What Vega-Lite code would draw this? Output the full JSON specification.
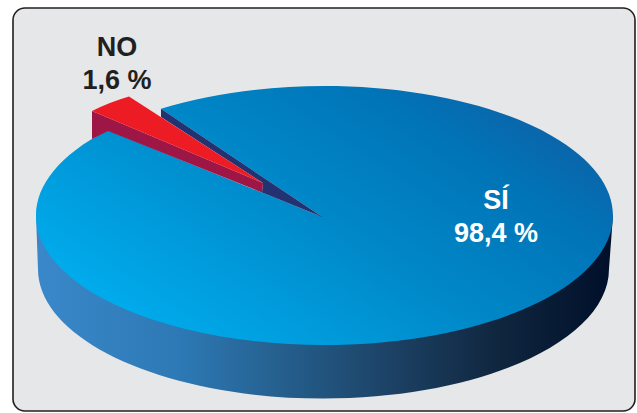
{
  "$schema": "https://vega.github.io/schema/vega-lite/v6.json",
  "width": 622,
  "height": 403,
  "padding": {"left": 13, "top": 8, "right": 2, "bottom": 2},
  "autosize": {"type": "none"},
  "background": "#ffffff",
  "view": {"fill": "#e6e7e8", "stroke": "#231f20", "strokeWidth": 1.6, "cornerRadius": 12},
  "data": {"values": [
    {"part": "SÍ", "share": 98.4, "label": "98,4 %", "u": 77.65, "v": 50.12},
    {"part": "NO", "share": 1.6, "label": "1,6 %", "u": 16.72, "v": 88.09}
  ]},
  "encoding": {
    "x": {"field": "u", "type": "quantitative", "axis": null, "scale": {"domain": [0, 100], "nice": false, "zero": false}},
    "y": {"field": "v", "type": "quantitative", "axis": null, "scale": {"domain": [0, 100], "nice": false, "zero": false}}
  },
  "layer": [
    {
      "transform": [{"filter": "datum.part === 'SÍ'"}],
      "mark": {"type": "point", "filled": true, "opacity": 1, "strokeWidth": 0, "size": 4,
        "shape": "M-460 6.5L-458 60A285.5 129.5 0 0 0 113 60L117 6.5Z",
        "fill": {"gradient": "linear", "x1": 0, "y1": 0.5, "x2": 1, "y2": 0.5, "stops": [
          {"offset": 0, "color": "#3a88ca"},
          {"offset": 0.25, "color": "#2d79b5"},
          {"offset": 0.42, "color": "#25608f"},
          {"offset": 0.6, "color": "#1d4468"},
          {"offset": 0.8, "color": "#10263f"},
          {"offset": 1, "color": "#000f2a"}
        ]}}
    },
    {
      "transform": [{"filter": "datum.part === 'SÍ'"}],
      "mark": {"type": "point", "filled": true, "opacity": 1, "strokeWidth": 0, "size": 4,
        "shape": "M-335 -100.2L-173.5 8L-388.5 -78.84A288.5 129.5 0 1 0 -335 -100.2Z",
        "fill": {"gradient": "linear", "x1": 0.05, "y1": 0.8, "x2": 0.95, "y2": 0.2, "stops": [
          {"offset": 0, "color": "#00aeef"},
          {"offset": 0.5, "color": "#0088c8"},
          {"offset": 0.8, "color": "#0075b8"},
          {"offset": 1, "color": "#0d62a8"}
        ]}}
    },
    {
      "transform": [{"filter": "datum.part === 'SÍ'"}],
      "mark": {"type": "point", "filled": true, "opacity": 1, "strokeWidth": 0, "size": 4, "fill": "#233270",
        "shape": "M-335 -100.2L-173.5 8L-234 -16.5L-233 -26L-335 -92Z"}
    },
    {
      "transform": [{"filter": "datum.part === 'NO'"}],
      "mark": {"type": "point", "filled": true, "opacity": 1, "strokeWidth": 0, "size": 4, "fill": "#9e1645",
        "shape": "M-25 55L146 127L145 136.5L-9 75L-25 83Z"}
    },
    {
      "transform": [{"filter": "datum.part === 'NO'"}],
      "mark": {"type": "point", "filled": true, "opacity": 1, "strokeWidth": 0, "size": 4, "fill": "#ed1c24",
        "shape": "M-25 55Q-7 46 12 40.5L146 127Z"}
    },
    {
      "mark": {"type": "text", "font": "Liberation Sans", "fontWeight": "bold", "fontSize": 27, "align": "center", "baseline": "alphabetic"},
      "encoding": {
        "text": {"field": "part"},
        "color": {"field": "part", "type": "nominal", "legend": null, "scale": {"domain": ["SÍ", "NO"], "range": ["#ffffff", "#231f20"]}}
      }
    },
    {
      "mark": {"type": "text", "font": "Liberation Sans", "fontWeight": "bold", "fontSize": 27, "align": "center", "baseline": "alphabetic", "dy": 33},
      "encoding": {
        "text": {"field": "label"},
        "color": {"field": "part", "type": "nominal", "legend": null, "scale": {"domain": ["SÍ", "NO"], "range": ["#ffffff", "#231f20"]}}
      }
    }
  ]
}
